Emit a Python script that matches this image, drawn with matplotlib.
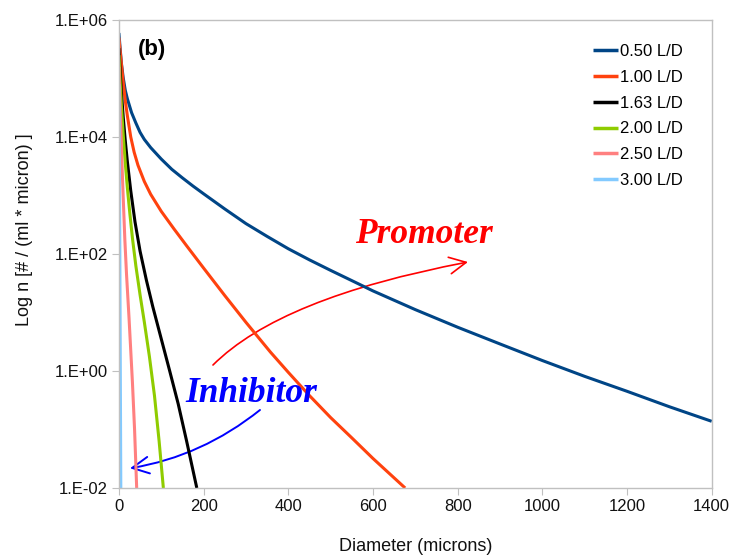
#!/usr/bin/env python3

import math

import matplotlib
matplotlib.use("Agg")
import matplotlib.pyplot as plt
from matplotlib.patches import FancyArrowPatch
from matplotlib.path import Path
from matplotlib.ticker import FixedLocator, FuncFormatter

plt.rcParams["font.family"] = ["Liberation Sans", "DejaVu Sans"]

# Diameter (microns) and number density n for each L/D ratio
d_050 = [0, 3, 6, 10, 15, 20, 30, 40, 50, 60, 75, 100, 125, 150, 175, 200, 250, 300,
         350, 400, 450, 500, 550, 600, 700, 800, 900, 1000, 1100, 1200, 1300, 1400]
n_050 = [6.0e5, 3.2e5, 1.8e5, 1.05e5, 6.3e4, 4.5e4, 2.6e4, 1.74e4, 1.2e4, 9.1e3, 6.6e3,
         4.2e3, 2.8e3, 2.0e3, 1.45e3, 1.07e3, 589, 331, 200, 123, 79.4, 52.5, 35.1, 23.4,
         11.2, 5.6, 2.9, 1.51, 0.81, 0.45, 0.245, 0.138]

d_100 = [0, 3, 6, 10, 15, 20, 28, 36, 45, 60, 75, 100, 130, 160, 200, 250, 300, 358,
         400, 450, 500, 550, 600, 676]
n_100 = [5.0e5, 2.95e5, 1.74e5, 8.9e4, 4.2e4, 2.3e4, 1.0e4, 5.5e3, 3.3e3, 1.74e3, 1.05e3,
         537, 269, 138, 57.5, 19.5, 6.8, 2.1, 0.95, 0.38, 0.16, 0.072, 0.032, 0.010]

d_163 = [0, 3, 6, 10, 15, 20, 28, 38, 50, 65, 80, 100, 120, 140, 160, 184]
n_163 = [3.3e5, 1.32e5, 5.75e4, 2.29e4, 8.7e3, 3.8e3, 1.2e3, 355, 112, 35.5, 12.6, 3.55,
         1.0, 0.275, 0.063, 0.010]

d_200 = [0, 3, 6, 10, 15, 20, 26, 32, 40, 50, 60, 72, 84, 95, 105]
n_200 = [2.5e5, 8.5e4, 3.3e4, 1.15e4, 3.6e3, 1.35e3, 479, 186, 63, 20, 6.9, 1.78, 0.38,
         0.063, 0.010]

d_250 = [0, 2, 4, 7, 10, 14, 18, 24, 32, 37, 42]
n_250 = [1.58e5, 5.0e4, 1.78e4, 4.0e3, 1.0e3, 178, 45, 7.9, 0.63, 0.10, 0.010]

d_300 = [0, 2, 4.5]
n_300 = [8.0e4, 250, 0.010]

SERIES = [
    ("0.50 L/D", d_050, n_050, "#004586"),
    ("1.00 L/D", d_100, n_100, "#ff420e"),
    ("1.63 L/D", d_163, n_163, "#000000"),
    ("2.00 L/D", d_200, n_200, "#8fcc00"),
    ("2.50 L/D", d_250, n_250, "#ff8080"),
    ("3.00 L/D", d_300, n_300, "#83caff"),
]

YTICKS = [1e-2, 1e0, 1e2, 1e4, 1e6]
XTICKS = [0, 200, 400, 600, 800, 1000, 1200, 1400]
FRAME = "#c0c0c0"

fig = plt.figure(figsize=(7.29, 5.55), dpi=100)
ax = fig.add_axes([118.9 / 729, 67 / 555, 592.8 / 729, 468 / 555])

for label, xs, ys, color in SERIES:
    ax.plot(xs, ys, color=color, lw=2.2, label=label, solid_capstyle="butt",
            solid_joinstyle="round")

ax.set_yscale("log")
ax.set_ylim(1e-2, 1e6)
ax.set_xlim(0, 1400)

ax.yaxis.set_major_locator(FixedLocator(YTICKS))
ax.yaxis.set_minor_locator(FixedLocator([]))
ax.yaxis.set_major_formatter(FuncFormatter(lambda v, p: "1.E%+03d" % round(math.log10(v))))
ax.set_xticks(XTICKS)

for s in ax.spines.values():
    s.set_color(FRAME)
    s.set_linewidth(1.0)
ax.tick_params(axis="both", direction="out", length=5, color=FRAME, labelsize=12,
               labelcolor="#111111", pad=3)

ax.set_xlabel("Diameter (microns)", fontsize=13, color="#111111")
ax.xaxis.set_label_coords(0.5, -0.107)
ax.set_ylabel("Log n [# / (ml * micron) ]", fontsize=13, color="#111111")
ax.yaxis.set_label_coords(-0.145, 0.553)

leg = ax.legend(loc="upper left", bbox_to_anchor=(0.80, 0.949), frameon=False,
                fontsize=12, handlelength=1.5, handletextpad=0.1, labelspacing=0.65,
                borderpad=0, borderaxespad=0)
for line in leg.get_lines():
    line.set_linewidth(2.5)

ax.text(0.056, 0.938, "(b)", transform=ax.transAxes, fontsize=16, fontweight="bold",
        ha="center", va="center")

# curved annotation arrows (axes fraction)
serif = ["Liberation Serif", "DejaVu Serif"]
ax.text(0.399, 0.523, "Promoter", transform=ax.transAxes, family=serif, fontsize=25.5,
        fontweight="bold", style="italic", color="#ff0000", ha="left", va="baseline")
ax.text(0.112, 0.184, "Inhibitor", transform=ax.transAxes, family=serif, fontsize=25.5,
        fontweight="bold", style="italic", color="#0000ff", ha="left", va="baseline")

promo = Path([(0.1587, 0.2628), (0.2723, 0.4066), (0.5889, 0.4829)],
             [Path.MOVETO, Path.CURVE3, Path.CURVE3])
ax.add_patch(FancyArrowPatch(path=promo, transform=ax.transAxes,
                             arrowstyle="->,head_length=0.6,head_width=0.3",
                             mutation_scale=20, color="#ff0000", lw=1.2))
inhib = Path([(0.2380, 0.1667), (0.1405, 0.0679), (0.0187, 0.0421)],
             [Path.MOVETO, Path.CURVE3, Path.CURVE3])
ax.add_patch(FancyArrowPatch(path=inhib, transform=ax.transAxes,
                             arrowstyle="->,head_length=0.6,head_width=0.3",
                             mutation_scale=20, color="#0000ff", lw=1.4))

fig.savefig("out.png", dpi=100)
